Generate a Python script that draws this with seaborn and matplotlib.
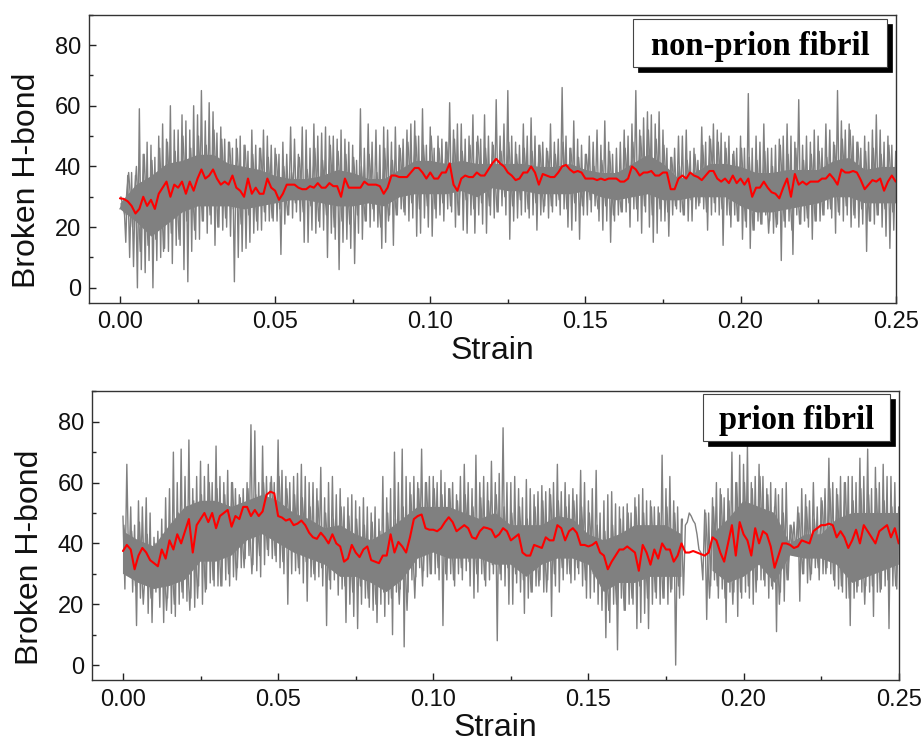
import numpy as np
import pandas as pd
import matplotlib
matplotlib.use('Agg')
import matplotlib.pyplot as plt
import seaborn as sns
from matplotlib.patches import Rectangle
from matplotlib.ticker import MultipleLocator, FormatStrFormatter

nan = np.nan

# Values, one row per 0.025 strain (step 0.00125)
top_peaks = [
    26, 29, 37, 38, 37, 59, 44, 48, 47, 43, 50, 54, 49, 60, 52, 52, 57, 55, 52, 60,
    57, 65, 55, 61, 58, 51, 53, 49, 48, 46, 49, 50, 47, 45, 52, 47, 46, 52, 50, 47,
    46, 44, 48, 44, 53, 49, 44, 53, 52, 46, 54, 50, 51, 53, 50, 50, 49, 52, 49, 48,
    47, 42, 59, 46, 54, 48, 52, 47, 53, 52, 48, 53, 47, 49, 52, 54, 55, 50, 59, 47,
    53, 46, 50, 49, 48, 61, 52, 54, 54, 49, 50, 57, 48, 49, 57, 50, 48, 62, 50, 54,
    65, 50, 48, 47, 54, 50, 56, 50, 47, 48, 46, 54, 48, 49, 66, 50, 46, 55, 49, 47,
    44, 50, 48, 52, 47, 55, 48, 44, 46, 48, 52, 50, 54, 65, 52, 56, 58, 57, 54, 58,
    52, 46, 43, 46, 50, 50, 52, 45, 46, 42, 53, 48, 50, 54, 52, 51, 48, 50, 44, 46,
    50, 46, 64, 46, 50, 48, 54, 46, 46, 47, 49, 50, 54, 50, 48, 62, 47, 50, 48, 52,
    50, 46, 54, 52, 48, 65, 55, 52, 54, 50, 48, 46, 50, 48, 52, 57, 52, 48, 50, 47,
    45,
]
top_troughs = [
    27, 15, 10, 7, 0, 6, 5, 9, 0, 9, 10, 13, 12, 8, 14, 14, 6, 2, 12, 16,
    16, 22, 18, 21, 14, 20, 19, 20, 17, 2, 10, 12, 13, 15, 18, 19, 19, 22, 22, 22,
    22, 11, 21, 24, 23, 25, 22, 15, 15, 19, 18, 20, 19, 10, 18, 16, 6, 15, 16, 13,
    8, 18, 16, 22, 20, 22, 20, 13, 15, 24, 14, 24, 26, 24, 22, 23, 17, 18, 23, 20,
    17, 23, 24, 22, 26, 25, 20, 24, 19, 18, 24, 18, 24, 21, 18, 24, 23, 25, 27, 24,
    16, 22, 23, 24, 25, 23, 24, 19, 24, 27, 23, 25, 27, 24, 26, 20, 19, 22, 16, 24,
    24, 25, 27, 22, 19, 22, 15, 22, 24, 25, 25, 20, 26, 22, 18, 25, 20, 15, 18, 22,
    22, 17, 24, 26, 25, 24, 22, 22, 26, 28, 26, 19, 24, 25, 24, 14, 24, 20, 24, 22,
    16, 20, 13, 19, 22, 21, 24, 22, 18, 21, 9, 20, 22, 11, 24, 21, 22, 20, 16, 22,
    22, 24, 26, 23, 18, 24, 22, 24, 20, 23, 20, 21, 12, 22, 21, 24, 20, 17, 13, 19,
]
top_smooth = [
    29.5, 29.3, 28.5, 27, 24.5, 26, 30, 27, 29, 26, 31, 33, 35, 30, 34, 33, 35, 31, 35, 32,
    36, 39, 36, 37, 39, 36, 34, 35, 34, 37, 33, 32, 30, 36, 31, 33, 31, 31, 36, 33,
    32, 29, 31, 34, 34, 34, 33, 32.5, 32.5, 33.5, 33, 34.5, 33, 33, 34.5, 33.5, 33.5, 30, 36, 33,
    33, 33, 33, 35, 34, 34, 34, 33.5, 31, 33, 37, 37, 36.5, 36.5, 36.5, 38, 39.5, 39.5, 38, 36,
    38, 36, 36, 38, 38, 41, 34, 32, 36, 37, 36.5, 36.5, 38, 37, 37, 39, 41, 42.5, 41, 40,
    38, 37, 35.5, 36, 38, 38, 40, 38, 34, 37.5, 37, 36.5, 36.5, 38, 40, 40.5, 39, 38, 38.5, 38,
    36, 36, 36, 35.5, 36, 35.5, 36, 36, 36, 35, 35, 36, 40, 39, 37, 38, 38, 38.5, 37, 37,
    38, 38, 32.5, 32.5, 36, 37, 36, 38, 37, 36.5, 35.5, 37, 38.5, 38.5, 36, 35, 36, 34.5, 37, 34.5,
    36, 34, 36, 30, 33, 33, 35, 33, 31.5, 31, 29.5, 33, 36, 30, 37.5, 34, 35, 34, 35, 35,
    35, 36, 36, 37.5, 36, 34, 39, 38, 38, 38.5, 38, 35.5, 32.5, 34, 35.5, 35, 36, 32, 35, 37,
    35,
]
# inner swings of the gray trace, step 0.0025
top_mid_hi = [
    30, 38, 40, 44, 42, 46, 48, 45, 50, 46,
    50, 47, 52, 49, 48, 46, 47, 44, 46, 43,
    44, 40, 38, 43, 39, 46, 42, 47, 45, 44,
    43, 40, 44, 38, 46, 42, 46, 48, 50, 47,
    50, 46, 48, 49, 45, 47, 50, 46, 47, 45,
    48, 44, 46, 45, 47, 45, 44, 48, 46, 43,
    44, 40, 42, 45, 38, 46, 48, 50, 52, 49,
    47, 43, 40, 42, 44, 47, 49, 48, 46, 45,
    46, 43, 42, 45, 40, 47, 44, 46, 42, 44,
    45, 43, 47, 49, 52, 48, 45, 46, 44, 47,
    45,
]
top_mid_lo = [
    24, 20, 12, 14, 16, 12, 18, 16, 22, 19,
    22, 24, 20, 23, 26, 21, 24, 22, 25, 23,
    26, 24, 28, 25, 27, 22, 24, 20, 22, 21,
    24, 22, 26, 20, 22, 24, 25, 28, 26, 27,
    26, 28, 27, 24, 29, 26, 28, 27, 25, 30,
    27, 29, 26, 28, 25, 27, 29, 26, 28, 27,
    29, 26, 27, 24, 25, 28, 26, 27, 24, 26,
    25, 27, 24, 29, 27, 25, 28, 26, 24, 22,
    22, 19, 21, 18, 20, 22, 19, 21, 23, 22,
    24, 26, 25, 27, 24, 26, 22, 24, 26, 25,
]
# solid core of the gray trace, one value per 0.005 strain
top_core_hi = [28, 34, 37, 41, 42, 44, 44, 41, 40, 39, 37, 36, 36, 37, 39, 38, 36, 36, 39, 42, 42,
               41, 42, 41, 41, 41, 41, 40, 40, 41, 39, 38, 38, 41, 44, 41, 36, 38, 41, 41, 40,
               38, 38, 39, 39, 39, 42, 43, 39, 40, 40]
top_core_lo = [26, 22, 17, 21, 25, 27, 27, 27, 26, 27, 28, 29, 29, 28, 27, 27, 28, 27, 30, 31, 31,
               31, 32, 30, 33, 32, 32, 31, 31, 31, 32, 30, 29, 30, 31, 29, 29, 30, 30, 30, 27,
               25, 25, 26, 27, 28, 30, 30, 28, 28, 28]

bot_peaks = [
    49, 66, 52, 46, 54, 52, 55, 50, 42, 44, 48, 55, 58, 70, 60, 71, 62, 74, 58, 62,
    67, 62, 66, 60, 72, 62, 60, 64, 60, 58, 56, 58, 60, 79, 77, 60, 72, 62, 60, 60,
    74, 64, 62, 60, 62, 63, 66, 62, 60, 60, 58, 65, 55, 60, 62, 56, 58, 52, 55, 56,
    54, 52, 55, 52, 50, 52, 48, 62, 55, 58, 70, 60, 71, 62, 60, 62, 60, 71, 60, 62,
    62, 60, 64, 60, 58, 60, 56, 62, 66, 60, 58, 69, 60, 62, 60, 67, 60, 63, 78, 60,
    60, 62, 58, 55, 61, 58, 56, 57, 59, 57, 58, 60, 66, 57, 60, 56, 58, 56, 64, 60,
    54, 58, 64, 50, 54, 56, 57, 53, 52, 52, 53, 50, 55, 56, 58, 54, 54, 52, 52, 69,
    58, 62, 54, 52, 48, 46, 50, 47.5, 43, 37, 51, 50, 55, 60, 58, 55, 58, 70, 60, 69,
    66, 72, 60, 62, 66, 62, 58, 60, 52, 56, 58, 60, 46, 47, 52, 58, 56, 54, 60, 52,
    55, 58, 68, 60, 58, 62, 60, 62, 62, 60, 68, 62, 71, 58, 65, 60, 66, 62, 62, 60,
    52,
]
bot_troughs = [
    25, 30, 24, 13, 22, 27, 17, 14, 24, 19, 14, 22, 17, 16, 20, 22, 21, 22, 19, 26,
    20, 25, 27, 26, 26, 26, 28, 26, 29, 32, 32, 35, 36, 33, 31, 29, 33, 36, 35, 34,
    32, 30, 20, 30, 31, 30, 27, 21, 29, 28, 29, 26, 13, 25, 28, 23, 25, 14, 20, 16,
    12, 20, 22, 19, 18, 14, 20, 16, 20, 10, 24, 25, 6, 24, 28, 29, 32, 31, 29, 30,
    30, 28, 13, 28, 30, 26, 30, 28, 31, 26, 22, 24, 30, 26, 28, 30, 8, 28, 26, 20,
    20, 27, 24, 17, 22, 24, 26, 28, 24, 28, 16, 26, 24, 28, 30, 27, 28, 30, 26, 22,
    22, 24, 20, 18, 9, 14, 20, 5, 22, 18, 20, 20, 12, 14, 17, 12, 20, 22, 20, 22,
    20, 25, 0, 22, 23, 47, 49, 46.5, 38, 28, 15, 26, 28, 22, 25, 14, 24, 24, 16, 22,
    24, 22, 20, 28, 28, 26, 22, 25, 11, 24, 21, 28, 38, 36, 21, 30, 27, 30, 32, 28,
    30, 32, 30, 26, 25, 24, 22, 13, 22, 26, 24, 26, 24, 16, 24, 25, 26, 12, 26, 25,
]
bot_smooth = [
    37.5, 39.5, 38, 31.5, 36, 38.5, 37, 34.5, 33.5, 32.5, 38, 35, 41, 38, 43, 40, 44, 48, 37, 46,
    48, 50, 47, 50, 45, 49, 50, 51, 45.5, 49, 48, 52, 52, 49, 51, 49, 50.5, 56, 57, 56.5,
    49, 48.5, 47.5, 48, 46, 46.5, 47.5, 46, 43.5, 42, 41.5, 43.5, 42, 40, 43, 40, 39, 34, 35, 39.5,
    37, 35.5, 38, 39, 34.5, 34, 33.5, 36, 36, 43, 37, 40.5, 39, 37, 42, 48, 49, 49.5, 45, 44.5,
    44.5, 44, 45, 47, 48.6, 47, 44, 45, 46, 45, 42, 41.5, 44, 45.3, 45, 44.5, 42, 43, 45, 44,
    41, 42, 43, 37, 36, 36, 39.5, 39, 38.5, 42, 41, 41, 46, 45, 41, 44, 45, 43.5, 39.5, 39.5,
    39, 39.5, 40.5, 37, 36, 31.5, 34, 36, 38, 38, 39, 38, 37, 31, 39.5, 37, 33, 38, 35, 40,
    38, 38, 34, 36, 40, 37, 37, 37.5, 37, 36.5, 36, 37, 42, 41, 37, 34, 40, 46, 36, 47,
    43, 41, 36, 45, 40, 44, 43, 39, 32, 36, 40, 40, 39.5, 38.5, 39, 41, 40.5, 40, 44, 45,
    46, 46, 46.5, 46, 42, 44, 42, 38.5, 41, 44.5, 40, 46, 44, 42, 40, 44, 45, 46, 42, 45,
    40,
]
# nan marks the hole in the trace near 0.185
bot_mid_hi = [
    46, 44, 47, 43, 40, 43, 42, 50, 48, 54,
    56, 60, 58, 56, 60, 55, 58, 56, 60, 62,
    62, 58, 56, 55, 52, 54, 50, 48, 52, 49,
    48, 46, 47, 44, 50, 48, 52, 56, 58, 60,
    58, 56, 58, 54, 56, 52, 55, 54, 56, 52,
    50, 52, 48, 52, 54, 56, 54, 52, 54, 52,
    50, 46, 44, 46, 48, 50, 52, 50, 52, 50,
    52, 50, 48, nan, nan, 50, 52, 56, 54, 60,
    60, 58, 62, 56, 58, 50, 46, 50, 52, 48,
    54, 58, 56, 60, 54, 58, 56, 58, 54, 52,
    50,
]
bot_mid_lo = [
    30, 26, 20, 22, 26, 18, 20, 24, 18, 22,
    24, 28, 26, 30, 28, 32, 30, 36, 38, 36,
    34, 38, 32, 34, 30, 32, 28, 30, 26, 24,
    26, 22, 20, 24, 22, 20, 18, 22, 26, 30,
    32, 30, 28, 32, 34, 30, 28, 33, 30, 32,
    30, 28, 24, 26, 24, 30, 32, 30, 32, 28,
    30, 26, 18, 20, 18, 22, 26, 22, 24, 22,
    24, 26, nan, nan, nan, 22, 26, 22, 20, 24,
    26, 24, 28, 26, 20, 28, 36, 30, 28, 32,
    30, 28, 26, 22, 24, 20, 26, 24, 28, 26,
]
bot_core_hi = [44, 41, 39, 46, 52, 54, 54, 52, 54, 56, 54, 50, 48, 45, 46, 43, 41, 44, 48, 52, 52,
               52, 50, 48, 50, 46, 46, 46, 49, 48, 43, 41, 43, 46, 46, 46, 43, nan, 43, 48, 54,
               52, 50, 40, 43, 43, 48, 50, 50, 50, 50]
bot_core_lo = [30, 27, 25, 26, 28, 34, 34, 36, 41, 43, 40, 37, 35, 33, 29, 29, 27, 24, 28, 35, 37,
               35, 35, 35, 33, 33, 29, 33, 35, 35, 33, 24, 27, 27, 29, 29, 29, nan, 31, 27, 29,
               33, 27, 36, 35, 35, 33, 27, 29, 31, 33]

W, H = 922, 744


def pixel_axes(fig, left, right, top, bottom):
    # axes placed from picture pixel positions
    return fig.add_axes([left / W, 1 - bottom / H, (right - left) / W, (bottom - top) / H])


def trace(peaks, troughs, shift=0.0):
    # alternate peaks and troughs into one gray trace, a nan starts a new piece
    y = np.empty(len(peaks) + len(troughs))
    y[0::2] = peaks
    y[1::2] = troughs
    x = np.linspace(0, 0.25, len(y)) + shift
    df = pd.DataFrame({'Strain': x, 'Hbond': y, 'piece': np.isnan(y).cumsum()})
    return df[df['Strain'] <= 0.25]


def draw_panel(ax, data):
    peaks, troughs, smooth, mid_hi, mid_lo, core_hi, core_lo = data
    red = pd.DataFrame({'Strain': np.linspace(0, 0.25, len(smooth)), 'Hbond': smooth})
    ax.fill_between(np.linspace(0, 0.25, len(core_hi)), core_lo, core_hi, color='#808080', lw=0)
    sns.lineplot(data=trace(mid_hi, mid_lo, 0.0003), x='Strain', y='Hbond', units='piece', ax=ax,
                 color='#808080', lw=1.0, estimator=None, sort=False)
    sns.lineplot(data=trace(peaks, troughs), x='Strain', y='Hbond', ax=ax, color='#808080', lw=1.0,
                 estimator=None, sort=False)
    sns.lineplot(data=red, x='Strain', y='Hbond', ax=ax, color='#ff0000', lw=1.5,
                 estimator=None, sort=False)
    ax.set_xlim(-0.00988, 0.25)
    ax.set_ylim(-5, 90)
    ax.xaxis.set_major_locator(MultipleLocator(0.05))
    ax.xaxis.set_minor_locator(MultipleLocator(0.025))
    ax.xaxis.set_major_formatter(FormatStrFormatter('%.2f'))
    ax.yaxis.set_major_locator(MultipleLocator(20))
    ax.yaxis.set_minor_locator(MultipleLocator(10))
    ax.tick_params(which='major', direction='in', length=5, width=1, labelsize=17,
                   color='#222222', labelcolor='#111111', top=False, right=False, pad=6)
    ax.tick_params(which='minor', direction='in', length=3, width=1, color='#222222',
                   top=False, right=False)
    ax.set_xlabel('Strain', fontsize=23, color='#111111', labelpad=2)
    ax.set_ylabel('Broken H-bond', fontsize=23, color='#111111')
    ax.yaxis.set_label_coords(-0.059, 0.427)
    for side in ax.spines.values():
        side.set_linewidth(1.0)
        side.set_color('#333333')


def label_box(fig, text, left, right, top, bottom):
    # black drop shadow first, white box on top of it
    fig.add_artist(Rectangle((left / W + 5 / W, 1 - (bottom + 5) / H), (right - left) / W,
                             (bottom - top) / H, transform=fig.transFigure,
                             facecolor='black', edgecolor='black', lw=0.5, zorder=5))
    fig.add_artist(Rectangle((left / W, 1 - bottom / H), (right - left) / W,
                             (bottom - top) / H, transform=fig.transFigure,
                             facecolor='white', edgecolor='#444444', lw=0.8, zorder=6))
    fig.text((left + right) / 2 / W, 1 - ((top + bottom) / 2 + 3) / H, text, color='black',
             family='Liberation Serif', weight='bold', fontsize=23.5,
             ha='center', va='center', zorder=7)


def main():
    sns.set_theme(style='ticks')
    plt.rcParams['font.family'] = ['Liberation Sans', 'DejaVu Sans']

    fig = plt.figure(figsize=(W / 100, H / 100), dpi=100)
    ax1 = pixel_axes(fig, 89.3, 895.7, 14.7, 303)
    ax2 = pixel_axes(fig, 92.3, 898.7, 391.3, 680.3)
    draw_panel(ax1, (top_peaks, top_troughs, top_smooth, top_mid_hi, top_mid_lo, top_core_hi, top_core_lo))
    draw_panel(ax2, (bot_peaks, bot_troughs, bot_smooth, bot_mid_hi, bot_mid_lo, bot_core_hi, bot_core_lo))

    label_box(fig, 'non-prion fibril', 633.3, 887, 18.7, 67.3)
    label_box(fig, 'prion fibril', 703.3, 890.3, 394.3, 441)

    fig.savefig('out.png', dpi=100)


if __name__ == "__main__":
    main()
